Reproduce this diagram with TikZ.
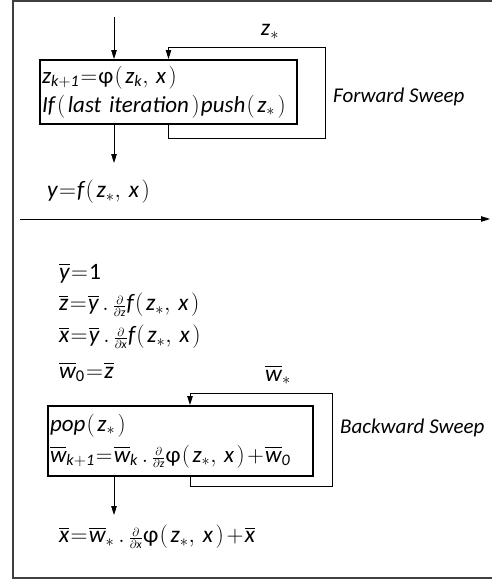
\documentclass[tikz,border=0pt]{standalone}
\usepackage{fix-cm}
\usepackage{amsmath}
\usepackage{fontspec}
\setmainfont{Carlito}
\usetikzlibrary{arrows.meta}

% formula in the italic text face, tight spacing
\newcommand{\eq}[1]{$\thickmuskip=1mu\medmuskip=1mu\mathit{#1}$}
\newcommand{\pd}[1]{\genfrac{}{}{}{2}{\partial}{\partial #1}}
\newcommand{\op}{\mkern1mu(\mkern2mu}
\newcommand{\cp}{\mkern2mu)\mkern1mu}

\begin{document}
\begin{tikzpicture}[x=1pt,y=-1pt,
		sweepbox/.style={draw=black, line width=2pt, inner sep=2pt, align=left,
				font=\fontsize{23}{29}\selectfont},
		eqn/.style={anchor=west, inner sep=0pt, font=\fontsize{23.5}{26}\selectfont},
		sweeplabel/.style={anchor=west, inner sep=0pt, font=\fontsize{21}{24}\selectfont\itshape},
		frame/.style={draw=black!75, line width=1.3pt},
		ar/.style={-{Triangle[length=9pt,width=5.5pt]}, line width=0.9pt},
	]
	\useasboundingbox (0,0) rectangle (492,581);
	\draw[frame] (492,1) -- (13,1) -- (13,578) -- (492,578);

	% forward sweep
	\coordinate (fin)  at (114,17);
	\coordinate (fout) at (114,163);
	\node[sweepbox, minimum width=257pt, minimum height=64pt, text width=253pt] (fbox) at (168.5,92)
	{\eq{z_{k+1}=\text{φ}\op z_k,\,x\cp}\\
		\textit{If}$\op\textit{last iteration}\cp\textit{push}\op\mathit{z}_*\cp$};
	\draw[ar] (fin) -- (fin |- fbox.north);
	\draw[ar] (fin |- fbox.south) -- (fout);
	\draw[ar] (fbox.south) -- ++(0,13) -| (325,47) -| (fbox.north);
	\node[eqn, anchor=center] (zst) at (270,32) {\eq{z_*}};
	\node[sweeplabel] (fws) at (333,97) {Forward Sweep};
	\node[eqn] (yf) at (47,192) {\eq{y=f\op z_*,\,x\cp}};

	% time axis
	\coordinate (axl) at (20,219);
	\coordinate (axr) at (490,219);
	\draw[ar] (axl) -- (axr);

	% backward sweep
	\node[eqn] (yb) at (59,273) {\eq{\overline{y}=\mathrm{1}}};
	\node[eqn] (zb) at (59,305) {\eq{\overline{z}=\overline{y}\,.\,\pd{z}f\op z_*,\,x\cp}};
	\node[eqn] (xb) at (59,337) {\eq{\overline{x}=\overline{y}\,.\,\pd{x}f\op z_*,\,x\cp}};
	\node[eqn] (wz) at (59,372) {\eq{\overline{w}_{\mathrm{0}}=\overline{z}}};
	\coordinate (bl) at (190,0);
	\coordinate (bin) at (114,0);
	\coordinate (bout) at (114,515);
	\node[sweepbox, minimum width=265pt, minimum height=70pt, text width=261pt] (bbox) at (180.5,441)
	{\eq{pop\op z_*\cp}\\[2pt]
		\eq{\overline{w}_{k+1}=\overline{w}_k\,.\,\pd{z}\text{φ}\op z_*,\,x\cp+\overline{w}_0}};
	\draw[ar] (bl |- bbox.south) -- ++(0,9) -| (332,393) -| (bl |- bbox.north);
	\node[eqn, anchor=center] (wst) at (278,375) {\eq{\overline{w}_*}};
	\node[sweeplabel] (bws) at (340,428) {Backward Sweep};
	\draw[ar] (bin |- bbox.south) -- (bout);
	\node[eqn] (xr) at (59,537) {\eq{\overline{x}=\overline{w}_*\,.\,\pd{x}\text{φ}\op z_*,\,x\cp+\overline{x}}};
\end{tikzpicture}
\end{document}
